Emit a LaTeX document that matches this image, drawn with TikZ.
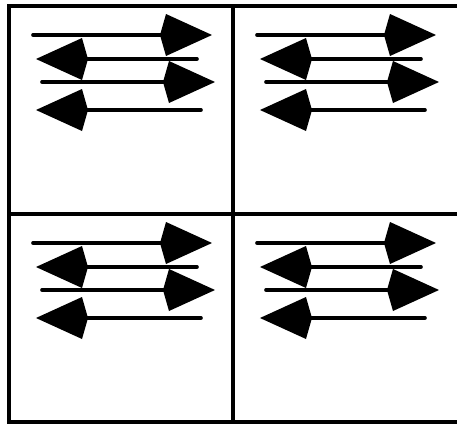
\documentclass[tikz,border=0pt]{standalone}
\usetikzlibrary{arrows.meta, positioning, calc}
\tikzset{
    % Cell frames - sharp corners
    cellbox/.style={
        rectangle,
        draw=black,
        line width=2pt,
        minimum width=112pt,
        minimum height=104pt,
        inner sep=0pt,
        outer sep=0pt
    },
    % Arrow styles
    rightarrow/.style={
        -{Kite[length=26pt, width=21pt, inset=3pt]},
        line width=1.8pt,
        line cap=round,
        black
    },
    leftarrow/.style={
        rightarrow
    }
}
\begin{document}
\begin{tikzpicture}[x=0.5pt, y=-0.5pt]
    \useasboundingbox (0,0) rectangle (457,424);

    % grid of four cells
    \node[cellbox] (c11) at (121,110) {};
    \node[cellbox, minimum width=124pt] (c12) at (357,110) {};
    \node[cellbox] (c21) at (121,318) {};
    \node[cellbox, minimum width=124pt] (c22) at (357,318) {};

    % four arrows in every cell
    \foreach \c in {c11,c12,c21,c22}{
        \begin{scope}[shift={(\c.north west)}]
            \foreach \yy/\xs/\xe [count=\i] in {29/24/203, 53/188/27, 76/33/206, 104/192/27}{
                \coordinate (\c-s\i) at (\xs,\yy);
                \coordinate (\c-e\i) at (\xe,\yy);
            }
        \end{scope}
        \draw[rightarrow] (\c-s1) -- (\c-e1);
        \draw[leftarrow] (\c-s2) -- (\c-e2);
        \draw[rightarrow] (\c-s3) -- (\c-e3);
        \draw[leftarrow] (\c-s4) -- (\c-e4);
    }
\end{tikzpicture}
\end{document}
